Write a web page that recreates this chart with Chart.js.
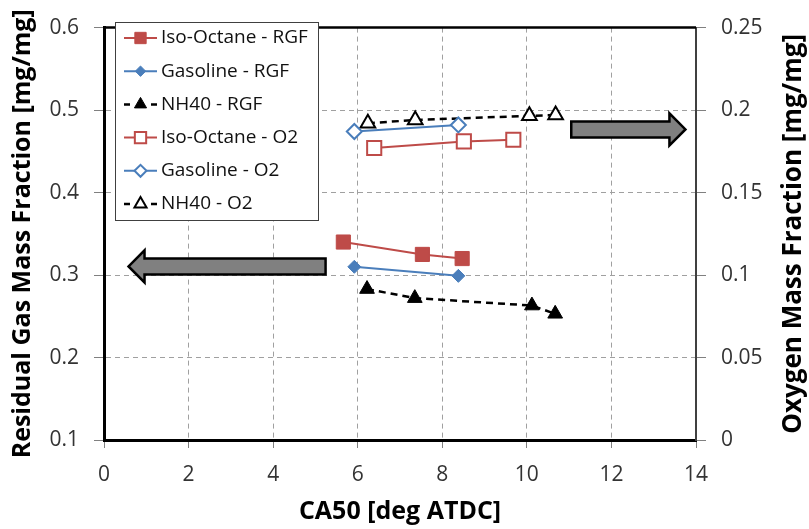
<!DOCTYPE html>
<html>
<head>
<meta charset="utf-8">
<script src="https://cdn.jsdelivr.net/npm/chart.js@4"></script>
<style>
  body { margin: 0; background: #fff; }
  #wrap { width: 809px; height: 529px; position: relative; }
</style>
</head>
<body>
<div id="wrap"><canvas id="chart"></canvas></div>
<script>
// CA50 [deg ATDC] on x, RGF on left axis, O2 on right axis
const isoRgfX = [5.66, 7.53, 8.47];
const isoRgfY = [0.340, 0.325, 0.320];
const gasRgfX = [5.92, 8.38];
const gasRgfY = [0.310, 0.299];
const nhRgfX = [6.22, 7.35, 10.12, 10.67];
const nhRgfY = [0.283, 0.272, 0.263, 0.253];

const isoO2X = [6.39, 8.51, 9.68];
const isoO2Y = [0.177, 0.181, 0.182];
const gasO2X = [5.92, 8.38];
const gasO2Y = [0.187, 0.191];
const nhO2X = [6.24, 7.36, 10.06, 10.68];
const nhO2Y = [0.192, 0.194, 0.1965, 0.197];

const seriesNames = ['Iso-Octane - RGF', 'Gasoline - RGF', 'NH40 - RGF',
                     'Iso-Octane - O2', 'Gasoline - O2', 'NH40 - O2'];

const RED = '#be4b48';
const BLUE = '#4a7ebb';
const FONT = "'Open Sans', sans-serif";

function pts(xs, ys) {
  return xs.map((x, i) => ({ x: x, y: ys[i] }));
}

function ds(name, xs, ys, axis, color, style, radius, filled, dash) {
  return {
    label: name,
    data: pts(xs, ys),
    yAxisID: axis,
    borderColor: color,
    borderWidth: dash ? 2.5 : 2,
    borderDash: dash ? [7, 5] : [],
    pointStyle: style,
    pointRadius: radius,
    pointHoverRadius: radius,
    pointBackgroundColor: filled ? color : '#fff',
    pointBorderColor: color,
    pointBorderWidth: filled ? 1 : 2,
    fill: false,
    tension: 0
  };
}

const datasets = [
  ds(seriesNames[0], isoRgfX, isoRgfY, 'y', RED, 'rect', 10, true, false),
  ds(seriesNames[1], gasRgfX, gasRgfY, 'y', BLUE, 'rectRot', 6.5, true, false),
  ds(seriesNames[2], nhRgfX, nhRgfY, 'y', '#000', 'triangle', 8.5, true, true),
  ds(seriesNames[3], isoO2X, isoO2Y, 'y1', RED, 'rect', 10, false, false),
  ds(seriesNames[4], gasO2X, gasO2Y, 'y1', BLUE, 'rectRot', 7.5, false, false),
  ds(seriesNames[5], nhO2X, nhO2Y, 'y1', '#000', 'triangle', 8.5, false, true)
];

// legend box with line + marker samples, the two block arrows, frame and right title
const extras = {
  id: 'extras',
  afterDatasetsDraw(chart) {
    const ctx = chart.ctx;
    const a = chart.chartArea;
    const xs = chart.scales.x, ys = chart.scales.y;

    // top frame line
    ctx.save();
    ctx.strokeStyle = '#000';
    ctx.lineWidth = 2.5;
    ctx.beginPath();
    ctx.moveTo(a.left, a.top);
    ctx.lineTo(a.right, a.top);
    ctx.stroke();
    ctx.restore();

    // arrows
    function arrow(x0, x1, yv) {
      const px0 = xs.getPixelForValue(x0), px1 = xs.getPixelForValue(x1);
      const py = ys.getPixelForValue(yv);
      const dir = Math.sign(px1 - px0);
      const head = 16 * dir;
      ctx.save();
      ctx.fillStyle = '#808080';
      ctx.strokeStyle = '#000';
      ctx.lineWidth = 2.5;
      ctx.lineJoin = 'miter';
      ctx.beginPath();
      ctx.moveTo(px0, py - 8);
      ctx.lineTo(px1 - head, py - 8);
      ctx.lineTo(px1 - head, py - 16);
      ctx.lineTo(px1, py);
      ctx.lineTo(px1 - head, py + 16);
      ctx.lineTo(px1 - head, py + 8);
      ctx.lineTo(px0, py + 8);
      ctx.closePath();
      ctx.fill();
      ctx.stroke();
      ctx.restore();
    }
    arrow(5.24, 0.58, 0.3105);
    arrow(11.05, 13.75, 0.4766);

    // legend
    const lx = 115, ly = 22, lw = 203, lh = 198;
    ctx.save();
    ctx.fillStyle = '#fff';
    ctx.fillRect(lx, ly, lw, lh);
    ctx.strokeStyle = '#404040';
    ctx.lineWidth = 1;
    ctx.strokeRect(lx + 0.5, ly + 0.5, lw, lh);
    ctx.font = '19px ' + FONT;
    ctx.textBaseline = 'middle';
    ctx.textAlign = 'left';
    chart.data.datasets.forEach((d, i) => {
      const y = 38 + i * 33.2;
      ctx.save();
      ctx.strokeStyle = d.borderColor;
      ctx.lineWidth = d.borderWidth;
      ctx.beginPath();
      if (d.borderDash.length) {
        ctx.moveTo(124, y); ctx.lineTo(130, y);
        ctx.moveTo(151, y); ctx.lineTo(157, y);
      } else {
        ctx.moveTo(124, y); ctx.lineTo(157, y);
      }
      ctx.stroke();
      ctx.fillStyle = d.pointBackgroundColor;
      ctx.strokeStyle = d.pointBorderColor;
      ctx.lineWidth = d.pointBorderWidth;
      Chart.helpers.drawPoint(ctx, {
        pointStyle: d.pointStyle,
        radius: d.pointStyle === 'triangle' ? 7 : d.pointRadius * 0.8,
        rotation: 0,
        borderWidth: d.pointBorderWidth
      }, 140.5, y);
      ctx.restore();
      ctx.fillStyle = '#111';
      ctx.fillText(d.label, 161, y);
    });
    ctx.restore();

    // right axis title, reading bottom to top
    ctx.save();
    ctx.translate(794, (a.top + a.bottom) / 2);
    ctx.rotate(-Math.PI / 2);
    ctx.font = 'bold 26px ' + FONT;
    ctx.fillStyle = '#000';
    ctx.textAlign = 'center';
    ctx.textBaseline = 'middle';
    ctx.fillText('Oxygen Mass Fraction [mg/mg]', 0, 0);
    ctx.restore();
  }
};

const tickFont = { family: FONT, size: 21 };
const titleFont = { family: FONT, size: 25, weight: 'bold' };
const fmt = v => String(parseFloat(v.toFixed(2)));

new Chart(document.getElementById('chart'), {
  type: 'line',
  data: { datasets: datasets },
  options: {
    responsive: true,
    maintainAspectRatio: false,
    animation: false,
    layout: { padding: { top: 13, left: 0, right: 0, bottom: 0 } },
    plugins: {
      legend: { display: false },
      tooltip: { enabled: false }
    },
    scales: {
      x: {
        type: 'linear',
        min: 0, max: 14,
        ticks: { stepSize: 2, font: tickFont, color: '#333', padding: 14, callback: fmt },
        grid: { color: '#a0a0a0', lineWidth: 1, tickLength: 8, tickColor: '#808080' },
        border: { color: '#000', width: 3, dash: [5, 4] },
        title: { display: true, text: 'CA50 [deg ATDC]', font: titleFont, color: '#000', padding: { top: 0, bottom: 2 } },
        afterFit(s) { s.height = 89; }
      },
      y: {
        position: 'left',
        min: 0.1, max: 0.6,
        ticks: { stepSize: 0.1, font: tickFont, color: '#333', padding: 15, callback: fmt },
        grid: { color: '#a0a0a0', lineWidth: 1, tickLength: 10, tickColor: '#808080' },
        border: { color: '#000', width: 3, dash: [5, 4] },
        title: { display: true, text: 'Residual Gas Mass Fraction [mg/mg]', font: titleFont, color: '#000', padding: { top: 8, bottom: 0 } },
        afterFit(s) { s.width = 104; }
      },
      y1: {
        position: 'right',
        min: 0, max: 0.25,
        ticks: { stepSize: 0.05, font: tickFont, color: '#333', padding: 15, callback: fmt },
        grid: { drawOnChartArea: false, tickLength: 10, tickColor: '#808080' },
        border: { color: '#404040', width: 2 },
        afterFit(s) { s.width = 113; }
      }
    }
  },
  plugins: [extras]
});
</script>
</body>
</html>
